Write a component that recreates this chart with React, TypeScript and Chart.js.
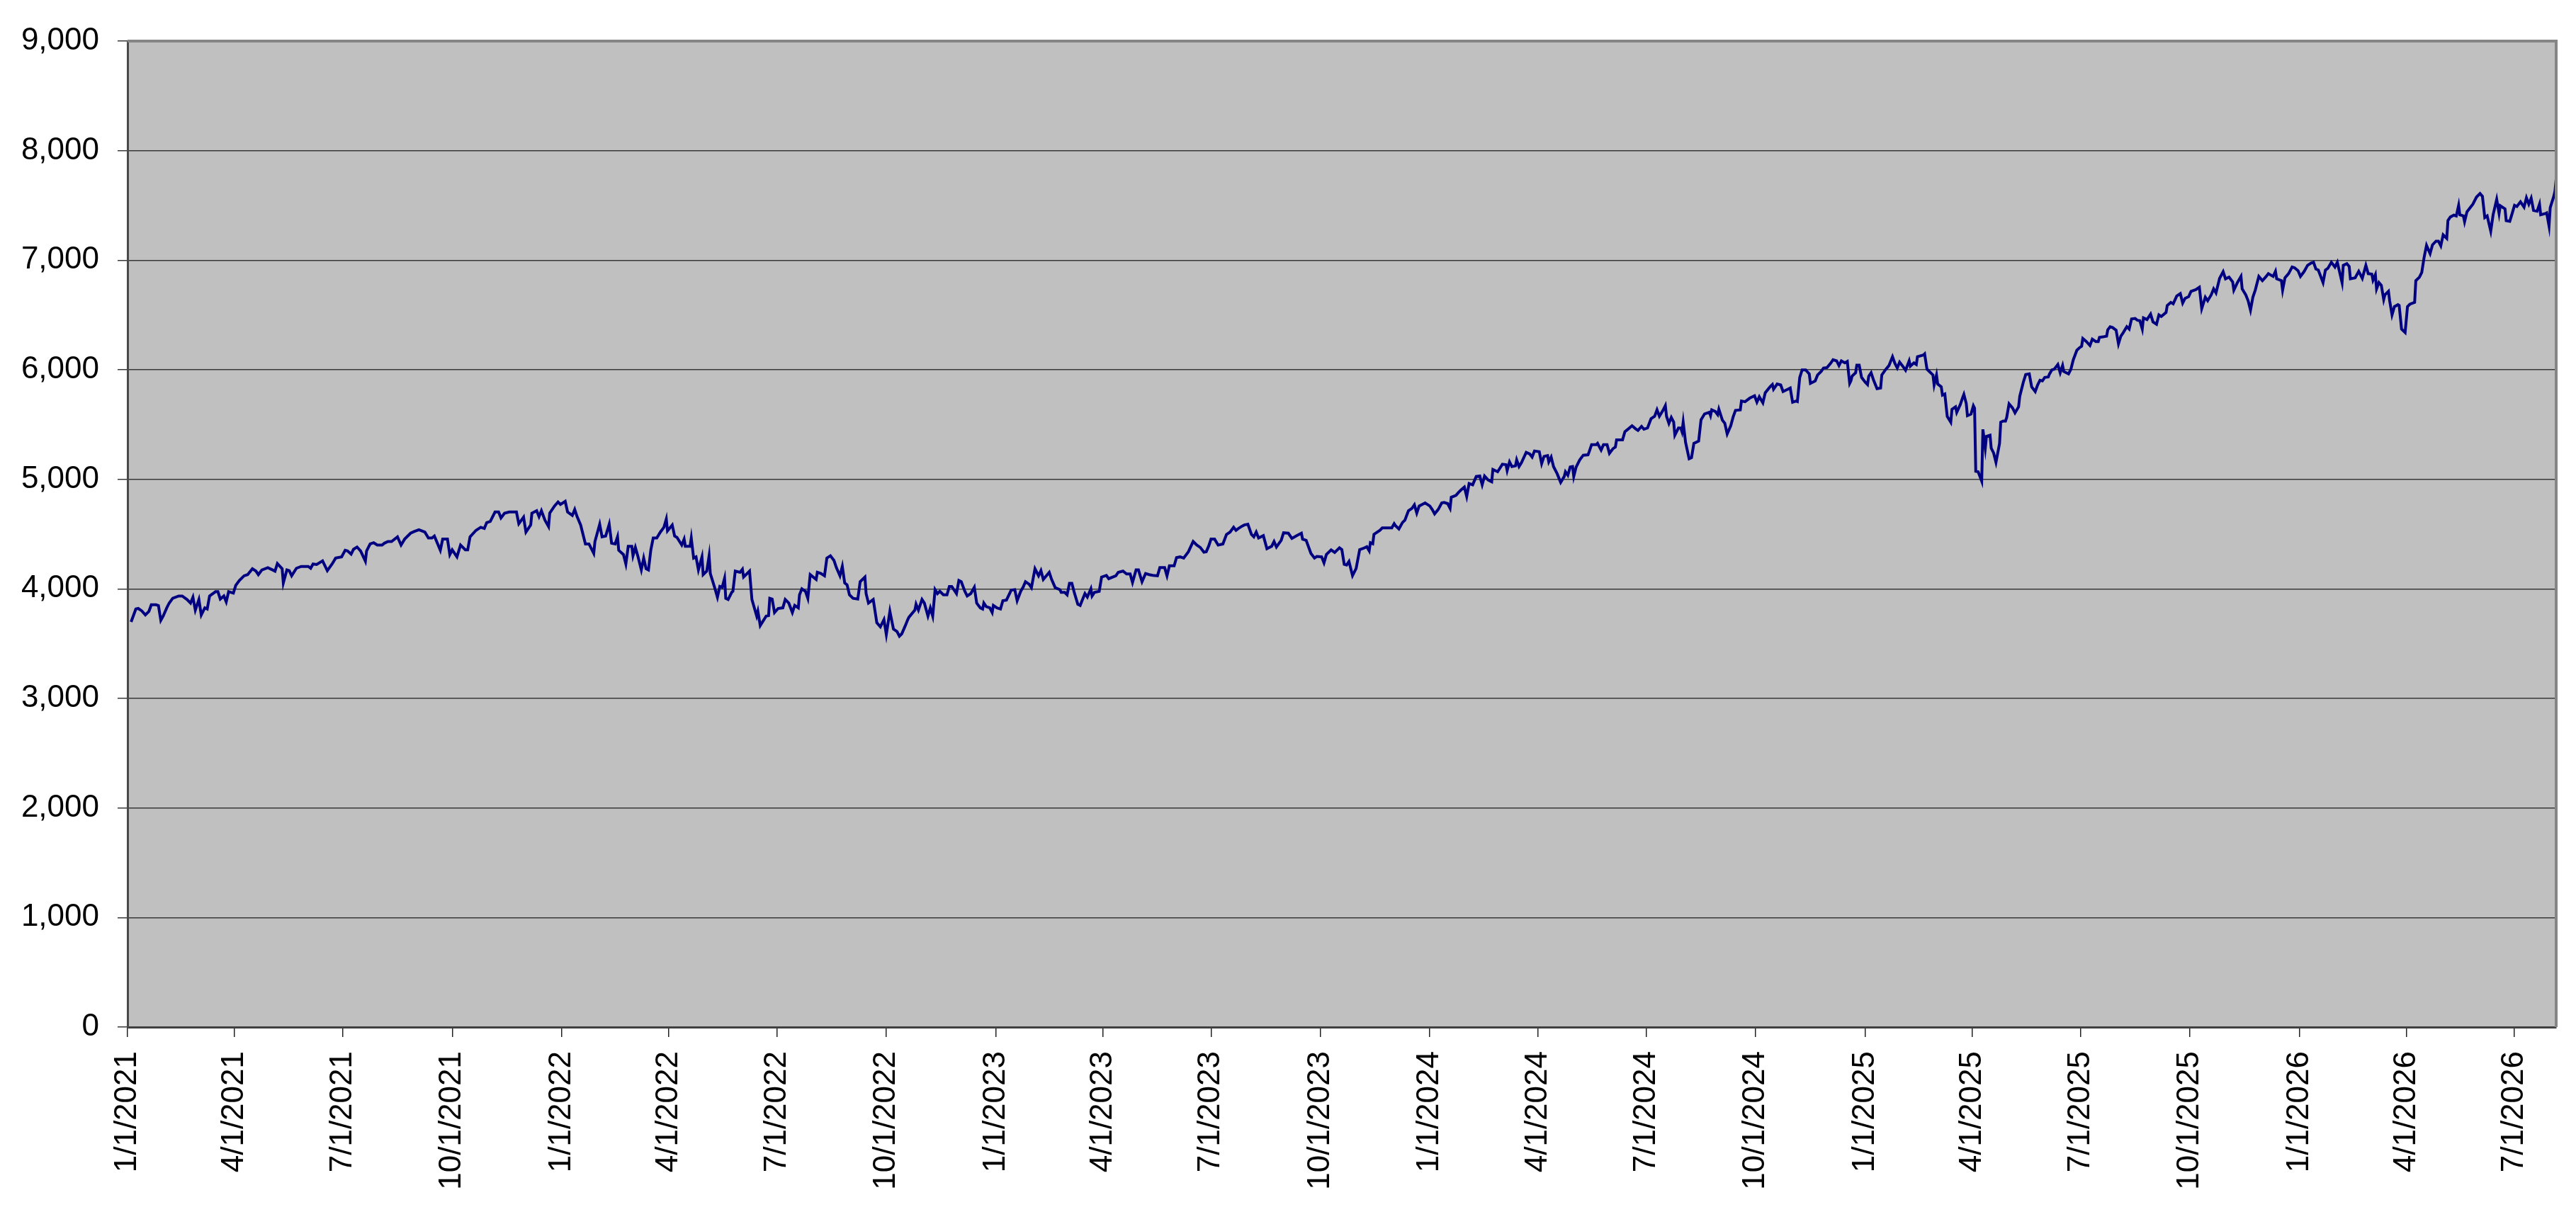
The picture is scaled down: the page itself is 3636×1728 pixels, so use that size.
import React, { useEffect, useRef } from "react";
import { Chart, registerables } from "chart.js";

Chart.register(...registerables);

// Quarter tick labels on the date axis
const tickLabels = [
  "1/1/2021", "4/1/2021", "7/1/2021", "10/1/2021",
  "1/1/2022", "4/1/2022", "7/1/2022", "10/1/2022",
  "1/1/2023", "4/1/2023", "7/1/2023", "10/1/2023",
  "1/1/2024", "4/1/2024", "7/1/2024", "10/1/2024",
  "1/1/2025", "4/1/2025", "7/1/2025", "10/1/2025",
  "1/1/2026", "4/1/2026", "7/1/2026",
];

const yTickValues = [0, 1000, 2000, 3000, 4000, 5000, 6000, 7000, 8000, 9000];

// Days since 1/1/2021 of each sampled session
const sessionDay = [
  3, 7, 9, 12, 15, 18, 20, 24, 26, 28, 30, 33, 35, 38, 43, 46, 50, 53, 55, 57, 60, 62, 65, 67, 69, 74, 76, 78, 81, 83, 85, 89, 91, 94, 98, 101, 105, 108, 110, 113, 118, 122, 124, 126, 130, 131, 134, 136, 138, 142, 146, 152, 154, 156, 159, 164, 168, 172, 175, 180, 183, 185, 188, 190, 193, 196, 200, 201, 204, 207, 210, 214, 216, 219, 222, 227, 230, 233, 238, 241, 245, 250, 253, 256, 258, 263, 265, 269, 271, 273, 277, 280, 284, 286, 288, 293, 297, 300, 302, 305, 309, 312, 314, 317, 321, 327, 329, 333,
  335, 337, 339, 340, 344, 346, 348, 351, 354, 355, 359, 362, 364, 368, 370, 374, 376, 378, 381, 385, 388, 392, 393, 397, 399, 402, 405, 407, 410, 412, 413, 417, 419, 421, 424, 425, 427, 429, 432, 434, 436, 438, 440, 442, 445, 448, 451, 453, 454, 458, 460, 462, 466, 468, 469, 473, 474, 476, 478, 480, 483, 484, 487, 489, 490, 494, 496, 498, 500, 502, 503, 505, 508, 509, 511, 515, 517, 518, 523, 525, 529, 530, 532, 537, 539, 540, 542, 544, 547, 551, 553, 556, 559, 561, 564, 565, 567, 570, 572, 574, 579, 580, 583, 586, 588, 591, 594, 596, 599, 601, 603, 605, 607, 610, 614, 616, 620, 621, 623, 627, 630, 633, 636, 638, 641, 644, 647, 649, 651, 654, 656, 657, 662, 663, 665, 668, 670,
  673, 675, 677, 679, 681, 683, 686, 689, 691, 693, 697, 699, 701, 704, 706, 709, 712, 714, 717, 719, 720, 722, 725, 727, 728, 731, 734, 736, 739, 743, 746, 748, 751, 753, 755, 758, 760, 763, 766, 768, 770, 775, 777, 780, 784, 785, 788, 790, 792, 794, 796, 799, 801, 803, 805, 807, 810, 811, 813, 817, 819, 823, 825, 831, 833, 837, 840, 843, 845, 848, 850, 853, 856, 859, 862, 866, 868, 872, 874, 876, 880, 882, 885, 888, 892, 896, 899, 902, 905, 907, 909, 911, 914, 917, 921, 924, 927, 930, 932, 934, 937, 939, 942, 945, 947, 949, 951, 955, 958, 962, 964, 966, 970, 972, 976, 979, 983, 987, 988, 991, 995, 998, 1000, 1004, 1006, 1008, 1012,
  1015, 1019, 1021, 1023, 1025, 1027, 1030, 1033, 1036, 1039, 1042, 1044, 1045, 1047, 1048, 1053, 1055, 1058, 1063, 1065, 1066, 1069, 1072, 1074, 1077, 1080, 1082, 1084, 1086, 1091, 1095, 1097, 1099, 1102, 1105, 1107, 1110, 1112, 1113, 1117, 1119, 1121, 1124, 1126, 1128, 1131, 1134, 1137, 1139, 1141, 1144, 1147, 1148, 1152, 1156, 1159, 1160, 1162, 1164, 1167, 1168, 1170, 1172, 1176, 1179, 1181, 1183, 1187, 1189, 1191, 1194, 1195, 1197, 1199, 1202, 1205, 1208, 1209, 1211, 1213, 1215, 1216, 1218, 1221, 1224, 1228, 1229, 1231, 1235, 1236, 1239, 1241, 1244, 1246, 1249, 1251, 1252, 1257, 1259, 1262, 1265, 1268, 1270, 1273, 1275, 1278, 1281, 1284, 1286, 1288, 1291, 1293, 1294, 1296, 1298, 1300, 1301, 1304, 1306, 1307, 1308, 1310, 1313, 1315, 1317, 1321, 1323, 1326, 1330, 1331, 1332, 1335, 1337, 1338, 1341, 1343, 1345, 1348, 1350,
  1352, 1356, 1357, 1360, 1364, 1368, 1370, 1372, 1375, 1377, 1381, 1383, 1384, 1387, 1390, 1392, 1396, 1398, 1400, 1403, 1404, 1406, 1408, 1411, 1414, 1415, 1419, 1421, 1424, 1426, 1429, 1432, 1434, 1437, 1439, 1441, 1444, 1446, 1448, 1449, 1450, 1453, 1454, 1456, 1458, 1461, 1463, 1464, 1466, 1468, 1471, 1474, 1475, 1478, 1481, 1484, 1486, 1488, 1490, 1493, 1495, 1498, 1499, 1502, 1504, 1505, 1510, 1511, 1513, 1515, 1518, 1519, 1521, 1522, 1525, 1526, 1528, 1530, 1533, 1534, 1537, 1538, 1541, 1543, 1544, 1546, 1547, 1550, 1552, 1553, 1554, 1556, 1559, 1560, 1562, 1563, 1566, 1567, 1569, 1571, 1574, 1575, 1577, 1579, 1580, 1582, 1585, 1587, 1590, 1591, 1594, 1596, 1599, 1601, 1604, 1606, 1608, 1610, 1612, 1615, 1616, 1618, 1620, 1623, 1625, 1627, 1628, 1632, 1634, 1636, 1639, 1641, 1643, 1644, 1647, 1650, 1652, 1655, 1657, 1658, 1661, 1664, 1665, 1667, 1669, 1672, 1674, 1676, 1678, 1681, 1683, 1685, 1688, 1690,
  1692, 1694, 1695, 1698, 1701, 1703, 1706, 1708, 1710, 1714, 1715, 1718, 1720, 1723, 1726, 1728, 1730, 1733, 1735, 1739, 1742, 1744, 1747, 1749, 1752, 1754, 1756, 1759, 1762, 1764, 1767, 1770, 1771, 1774, 1777, 1778, 1781, 1783, 1785, 1787, 1789, 1792, 1795, 1798, 1800, 1804, 1806, 1807, 1811, 1812, 1814, 1817, 1820, 1822, 1825, 1827, 1830, 1833, 1836, 1838, 1840, 1842, 1846, 1848, 1850, 1853, 1856, 1858, 1862, 1863, 1866, 1868, 1869, 1873, 1876, 1878, 1879, 1882, 1884, 1887, 1888, 1890, 1891, 1893, 1895, 1897, 1898, 1901, 1902, 1904, 1906, 1909, 1910, 1912, 1915, 1917, 1919, 1923, 1924, 1927, 1929, 1931, 1933, 1936, 1938, 1941, 1943, 1945, 1947, 1950, 1951, 1953, 1956, 1958, 1960, 1961, 1964, 1965, 1967, 1970, 1972, 1975, 1978, 1980, 1982, 1984, 1987, 1989, 1992, 1994, 1995, 1999, 2000, 2003, 2005, 2007, 2009, 2012, 2015, 2017, 2019, 2021, 2023, 2026, 2028, 2029, 2033, 2034, 2036, 2037, 2040, 2041, 2042,
];

// Index level at each sampled session
const indexLevel = [
  3698, 3816, 3821, 3799, 3762, 3795, 3855, 3855, 3847, 3713, 3752, 3827, 3870, 3914, 3935, 3935, 3903, 3870, 3924, 3806, 3903, 3762, 3827, 3816, 3935, 3974, 3974, 3907, 3935, 3881, 3974, 3961, 4032, 4076, 4119, 4130, 4184, 4162, 4130, 4173, 4194, 4173, 4162, 4231, 4184, 4054, 4173, 4166, 4119, 4188, 4205, 4205, 4188, 4227, 4222, 4255, 4166, 4227, 4281, 4292, 4352, 4346, 4317, 4361, 4382, 4346, 4253, 4346, 4410, 4421, 4400, 4400, 4417, 4432, 4432, 4475, 4400, 4454, 4508, 4523, 4540, 4518, 4464, 4464, 4482, 4352, 4454, 4454, 4313, 4356, 4292, 4400, 4356, 4356, 4475, 4534, 4562, 4551, 4605, 4616, 4702, 4702, 4648, 4691, 4702, 4702, 4594, 4654,
  4518, 4551, 4583, 4691, 4713, 4659, 4713, 4626, 4568, 4691, 4756, 4793, 4771, 4799, 4702, 4670, 4724, 4659, 4583, 4410, 4410, 4324, 4432, 4590, 4475, 4482, 4590, 4417, 4410, 4475, 4352, 4313, 4227, 4389, 4389, 4302, 4378, 4302, 4173, 4281, 4184, 4173, 4356, 4464, 4464, 4518, 4562, 4637, 4529, 4583, 4482, 4469, 4400, 4454, 4389, 4389, 4464, 4281, 4292, 4173, 4292, 4130, 4162, 4302, 4140, 4000, 3924, 4022, 4015, 4097, 3914, 3903, 3968, 3978, 4162, 4151, 4179, 4108, 4162, 3903, 3752, 3795, 3665, 3752, 3756, 3914, 3907, 3784, 3821, 3827, 3903, 3870, 3784, 3849, 3827, 3946, 4000, 3978, 3914, 4130, 4086, 4151, 4140, 4119, 4281, 4302, 4259, 4194, 4119, 4205, 4054, 4037, 3946, 3914, 3907, 4065, 4108, 3957, 3870, 3903, 3691, 3654, 3719, 3583, 3795, 3633, 3611, 3568, 3590, 3665, 3719, 3741, 3806, 3860, 3806, 3903, 3870,
  3752, 3827, 3752, 3993, 3957, 3978, 3946, 3946, 4022, 4022, 3957, 4076, 4065, 3978, 3935, 3957, 4015, 3870, 3827, 3816, 3870, 3838, 3827, 3784, 3849, 3827, 3816, 3892, 3898, 3989, 3993, 3892, 3978, 4015, 4065, 4043, 4011, 4184, 4119, 4166, 4086, 4151, 4086, 4011, 3993, 3968, 3968, 3946, 4050, 4050, 3968, 3860, 3849, 3903, 3957, 3925, 4000, 3935, 3968, 3978, 4108, 4123, 4093, 4119, 4151, 4162, 4136, 4136, 4058, 4173, 4173, 4065, 4140, 4130, 4123, 4119, 4194, 4194, 4119, 4210, 4210, 4285, 4292, 4281, 4339, 4432, 4400, 4378, 4335, 4339, 4389, 4454, 4454, 4400, 4410, 4497, 4518, 4562, 4534, 4551, 4572, 4583, 4590, 4497, 4475, 4518, 4464, 4486, 4367, 4389, 4432, 4382, 4443, 4512, 4508, 4460, 4486, 4508, 4454, 4443, 4324, 4281, 4296, 4292, 4238, 4313, 4356,
  4332, 4375, 4358, 4224, 4218, 4250, 4121, 4185, 4358, 4369, 4384, 4347, 4422, 4412, 4498, 4534, 4556, 4556, 4556, 4595, 4578, 4547, 4606, 4627, 4713, 4735, 4767, 4692, 4756, 4784, 4756, 4724, 4685, 4724, 4784, 4789, 4778, 4735, 4836, 4853, 4879, 4901, 4929, 4843, 4961, 4950, 5026, 5030, 4950, 5030, 4994, 4978, 5090, 5069, 5138, 5134, 5080, 5159, 5116, 5123, 5177, 5116, 5151, 5246, 5231, 5203, 5259, 5252, 5144, 5209, 5216, 5159, 5203, 5116, 5052, 4972, 5026, 5069, 5037, 5112, 5116, 5026, 5112, 5177, 5220, 5224, 5252, 5317, 5317, 5328, 5267, 5317, 5317, 5237, 5280, 5295, 5360, 5360, 5435, 5461, 5489, 5461, 5446, 5483, 5457, 5468, 5554, 5575, 5634, 5575, 5629, 5672, 5575, 5511, 5565, 5522, 5403, 5468, 5468, 5435, 5522, 5338, 5188, 5198, 5328, 5349, 5543, 5597, 5612, 5582, 5634, 5619, 5590, 5640, 5539, 5511, 5414, 5489, 5569,
  5629, 5633, 5715, 5708, 5741, 5762, 5704, 5753, 5698, 5790, 5844, 5865, 5822, 5870, 5861, 5801, 5822, 5833, 5704, 5715, 5710, 5930, 5999, 5999, 5962, 5876, 5898, 5952, 5984, 6016, 6020, 6059, 6091, 6081, 6038, 6081, 6063, 6076, 5876, 5898, 5941, 5973, 6042, 6042, 5930, 5887, 5865, 5941, 5973, 5908, 5827, 5833, 5952, 5999, 6038, 6119, 6059, 6016, 6070, 6027, 5995, 6081, 6033, 6063, 6048, 6119, 6135, 6145, 6005, 5984, 5952, 5861, 5952, 5870, 5844, 5769, 5779, 5575, 5521, 5639, 5661, 5611, 5682, 5747, 5775, 5693, 5581, 5596, 5672, 5650, 5073, 5069, 4983, 5456, 5284, 5392, 5403, 5284, 5241, 5155, 5327, 5521, 5532, 5532, 5564, 5689, 5650, 5607, 5661, 5758, 5887, 5956, 5962, 5844, 5801, 5861, 5904, 5898, 5930, 5934, 5962, 5999, 6005, 6048, 5973, 6038, 5984, 5962, 6005, 6091, 6178, 6199, 6214, 6285, 6257, 6221, 6279, 6257, 6257, 6296, 6300, 6307, 6365, 6393, 6386, 6361, 6236, 6307, 6339, 6393, 6371, 6464, 6468, 6451,
  6447, 6372, 6473, 6458, 6508, 6437, 6415, 6501, 6486, 6523, 6587, 6615, 6602, 6673, 6695, 6609, 6652, 6667, 6716, 6731, 6753, 6559, 6662, 6630, 6684, 6738, 6701, 6834, 6895, 6830, 6845, 6802, 6727, 6796, 6852, 6738, 6684, 6630, 6544, 6662, 6727, 6852, 6813, 6849, 6877, 6852, 6899, 6830, 6813, 6727, 6839, 6877, 6938, 6931, 6903, 6852, 6895, 6953, 6974, 6981, 6920, 6910, 6796, 6910, 6925, 6981, 6938, 6981, 6796, 6953, 6968, 6942, 6830, 6839, 6899, 6856, 6834, 6953, 6877, 6873, 6817, 6867, 6738, 6796, 6770, 6641, 6684, 6716, 6630, 6501, 6576, 6594, 6587, 6372, 6340, 6576, 6598, 6615, 6813, 6845, 6888, 7028, 7135, 7060, 7140, 7174, 7174, 7131, 7232, 7200, 7361, 7394, 7411, 7404, 7501, 7415, 7404, 7351, 7441, 7484, 7512, 7576, 7609, 7583, 7389, 7404, 7265, 7415, 7555, 7426, 7497, 7469, 7361, 7355, 7426, 7501, 7490, 7533, 7484, 7570, 7512, 7566, 7454, 7447, 7512, 7415, 7426, 7432, 7312, 7480, 7583, 7630, 7742,
];

const X_MAX_DAY = 2042;
const START_UTC = Date.UTC(2021, 0, 1);

function dayOfLabel(label: string): number {
  const [m, d, y] = label.split("/").map(Number);
  return Math.round((Date.UTC(y, m - 1, d) - START_UTC) / 86400000);
}

const FONT = "'Liberation Sans', Arial, Helvetica, sans-serif";

const plotFrame = {
  id: "plotFrame",
  beforeDraw(chart: any) {
    const { ctx, chartArea } = chart;
    if (!chartArea) return;
    ctx.save();
    ctx.fillStyle = "#C0C0C0";
    ctx.fillRect(chartArea.left, chartArea.top, chartArea.right - chartArea.left, chartArea.bottom - chartArea.top);
    ctx.restore();
  },
  afterDraw(chart: any) {
    const { ctx, chartArea } = chart;
    if (!chartArea) return;
    ctx.save();
    ctx.strokeStyle = "#858585";
    ctx.lineWidth = 4;
    ctx.beginPath();
    ctx.moveTo(chartArea.left, chartArea.top);
    ctx.lineTo(chartArea.right, chartArea.top);
    ctx.lineTo(chartArea.right, chartArea.bottom);
    ctx.stroke();
    ctx.restore();
  },
};

export default function App() {
  const canvasRef = useRef<HTMLCanvasElement | null>(null);

  useEffect(() => {
    const canvas = canvasRef.current;
    if (!canvas) return;
    const labelByDay: Record<number, string> = {};
    tickLabels.forEach((l) => {
      labelByDay[dayOfLabel(l)] = l;
    });
    const points = sessionDay.map((d, i) => ({ x: d, y: indexLevel[i] }));

    const chart = new Chart(canvas, {
      type: "line",
      data: {
        datasets: [
          {
            data: points,
            borderColor: "#000080",
            borderWidth: 4,
            pointRadius: 0,
            tension: 0,
            fill: false,
          },
        ],
      },
      options: {
        responsive: false,
        animation: false,
        layout: { padding: { top: 58, right: 28, left: 0, bottom: 0 } },
        plugins: { legend: { display: false }, tooltip: { enabled: false } },
        scales: {
          x: {
            type: "linear",
            min: 0,
            max: X_MAX_DAY,
            afterBuildTicks: (scale: any) => {
              scale.ticks = tickLabels.map((l) => ({ value: dayOfLabel(l) }));
            },
            afterFit: (scale: any) => {
              scale.height = 278;
            },
            ticks: {
              autoSkip: false,
              maxRotation: 90,
              minRotation: 90,
              padding: 20,
              color: "#000",
              font: { family: FONT, size: 44 },
              callback: (v: any) => labelByDay[Math.round(Number(v))] ?? "",
            },
            grid: {
              drawOnChartArea: false,
              drawTicks: true,
              tickLength: 14,
              color: "#222",
              lineWidth: 1.5,
            },
            border: { display: true, color: "#404040", width: 3 },
          },
          y: {
            min: 0,
            max: 9000,
            afterBuildTicks: (scale: any) => {
              scale.ticks = yTickValues.map((v) => ({ value: v }));
            },
            afterFit: (scale: any) => {
              scale.width = 180;
            },
            ticks: {
              padding: 26,
              color: "#000",
              font: { family: FONT, size: 44 },
              callback: (v: any) => Number(v).toLocaleString("en-US"),
            },
            grid: {
              color: "#383838",
              lineWidth: 1.5,
              tickLength: 14,
            },
            border: { display: true, color: "#4a4a4a", width: 3 },
          },
        },
      },
      plugins: [plotFrame],
    } as any);

    return () => chart.destroy();
  }, []);

  return (
    <div style={{ position: "fixed", left: 0, top: 0, width: 3636, height: 1728, background: "#fff" }}>
      <canvas ref={canvasRef} width={3636} height={1728} style={{ width: 3636, height: 1728, display: "block" }} />
    </div>
  );
}
